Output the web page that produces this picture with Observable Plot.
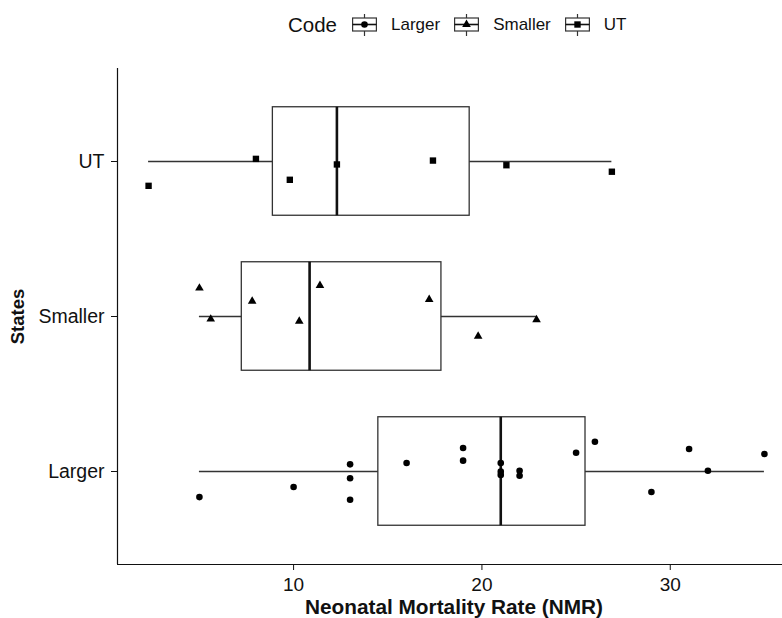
<!DOCTYPE html>
<html>
<head>
<meta charset="utf-8">
<script src="https://cdn.jsdelivr.net/npm/d3@7"></script>
<script src="https://cdn.jsdelivr.net/npm/@observablehq/plot@0.6"></script>
<style>
  html, body { margin: 0; padding: 0; background: white; }
  body { width: 782px; height: 618px; overflow: hidden; font-family: "Liberation Sans", Arial, sans-serif; }
  #legend { position: relative; height: 50px; display: flex; align-items: center; padding-left: 288px; box-sizing: border-box; color: #111; }
  #legend .title { font-size: 20.5px; margin-right: 15px; }
  #legend .key { margin-right: 14px; display: block; }
  #legend .lab { font-size: 17px; margin-right: 14px; }
</style>
</head>
<body>
<div id="legend"></div>
<div id="chart"></div>
<script>
// ---- data ----
const states = ["Larger", "Smaller", "UT"];
const legendTitle = "Code";
const xLabel = "Neonatal Mortality Rate (NMR)";
const yLabel = "States";
const xTicks = [10, 20, 30];

// NMR values per group
const largerNMR  = [5, 10, 13, 13, 13, 16, 19, 19, 21, 21, 21, 22, 22, 25, 26, 29, 31, 32, 35];
const smallerNMR = [5.0, 5.6, 7.8, 10.3, 11.4, 17.2, 19.8, 22.9];
const utNMR      = [2.3, 8.0, 9.8, 12.3, 17.4, 21.3, 26.9];

// vertical jitter of each point (in category units, positive = up)
const largerJitter  = [-0.165, -0.100, 0.046, -0.044, -0.182, 0.055, 0.152, 0.070, 0.055, -0.001, -0.023, 0.005, -0.027, 0.121, 0.192, -0.132, 0.145, 0.005, 0.113];
const smallerJitter = [0.183, -0.017, 0.099, -0.030, 0.200, 0.110, -0.127, -0.021];
const utJitter      = [-0.157, 0.017, -0.118, -0.019, 0.006, -0.024, -0.066];

// ---- build tables ----
const groups = [
  {state: "Larger",  values: largerNMR,  jitter: largerJitter},
  {state: "Smaller", values: smallerNMR, jitter: smallerJitter},
  {state: "UT",      values: utNMR,      jitter: utJitter}
];
const symbolOf = {Larger: "circle", Smaller: "triangle", UT: "square"};
const radiusOf = {Larger: 3.3, Smaller: 3.2, UT: 3.6};

const rows = [];
groups.forEach((g, i) => g.values.forEach((v, j) => rows.push({state: g.state, pos: i + 1, nmr: v, y: i + 1 + g.jitter[j]})));

const stats = groups.map((g, i) => {
  const s = g.values.slice().sort(d3.ascending);
  const q1 = d3.quantile(s, 0.25), med = d3.quantile(s, 0.5), q3 = d3.quantile(s, 0.75);
  const iqr = q3 - q1;
  const lo = d3.min(s.filter(v => v >= q1 - 1.5 * iqr));
  const hi = d3.max(s.filter(v => v <= q3 + 1.5 * iqr));
  return {state: g.state, pos: i + 1, q1, med, q3, lo, hi};
});

const xDomain = [0.65, 35.96];
const yDomain = [0.4, 3.6];
const half = 0.35;
const ink = "#333333";

const dotMarks = states.map(s => Plot.dot(rows.filter(r => r.state === s), {
  x: "nmr", y: "y", symbol: symbolOf[s], r: radiusOf[s], fill: "black", stroke: "none"
}));

const chart = Plot.plot({
  width: 782,
  height: 568,
  marginLeft: 117,
  marginRight: 0,
  marginTop: 18,
  marginBottom: 54,
  style: {fontFamily: "'Liberation Sans', Arial, sans-serif", background: "white", color: "#111"},
  x: {domain: xDomain},
  y: {domain: yDomain},
  marks: [
    Plot.ruleY(stats, {y: "pos", x1: "lo", x2: "hi", stroke: ink, strokeWidth: 1.3}),
    Plot.rect(stats, {x1: "q1", x2: "q3", y1: d => d.pos - half, y2: d => d.pos + half, fill: "white", stroke: ink, strokeWidth: 1.3}),
    Plot.ruleX(stats, {x: "med", y1: d => d.pos - half, y2: d => d.pos + half, stroke: "#111", strokeWidth: 2.6}),
    ...dotMarks,
    Plot.ruleY([yDomain[0]], {stroke: "#111", strokeWidth: 1.2}),
    Plot.ruleX([xDomain[0]], {stroke: "#111", strokeWidth: 1.2}),
    Plot.axisX({ticks: xTicks, tickSize: 6, tickPadding: 7, fontSize: 19, label: null}),
    Plot.axisY({ticks: [1, 2, 3], tickFormat: d => states[d - 1], tickSize: 6, tickPadding: 7, fontSize: 19.5, label: null}),
    Plot.text([xLabel], {frameAnchor: "bottom", dx: 4, dy: 49, fontWeight: "bold", fontSize: 20.8, fill: "#111"}),
    Plot.text([yLabel], {frameAnchor: "left", dx: -99, rotate: -90, textAnchor: "middle", fontWeight: "bold", fontSize: 18.5, fill: "#111"})
  ]
});
document.getElementById("chart").appendChild(chart);

// ---- legend ----
const legend = d3.select("#legend");
legend.append("span").attr("class", "title").text(legendTitle);
states.forEach(s => {
  const svg = legend.append("svg").attr("class", "key").attr("width", 25).attr("height", 24);
  svg.append("line").attr("x1", 12.5).attr("x2", 12.5).attr("y1", 1).attr("y2", 23).attr("stroke", ink).attr("stroke-width", 1.2);
  svg.append("rect").attr("x", 0.6).attr("y", 5).attr("width", 23.8).attr("height", 13).attr("fill", "white").attr("stroke", ink).attr("stroke-width", 1.2);
  svg.append("line").attr("x1", 0.6).attr("x2", 24.4).attr("y1", 11.5).attr("y2", 11.5).attr("stroke", "#111").attr("stroke-width", 1.6);
  svg.append("path").attr("transform", "translate(12.5,11.5)")
    .attr("d", d3.symbol(symbolOf[s] === "circle" ? d3.symbolCircle : symbolOf[s] === "triangle" ? d3.symbolTriangle : d3.symbolSquare, Math.PI * radiusOf[s] ** 2)())
    .attr("fill", "black");
  legend.append("span").attr("class", "lab").text(s);
});
</script>
</body>
</html>
